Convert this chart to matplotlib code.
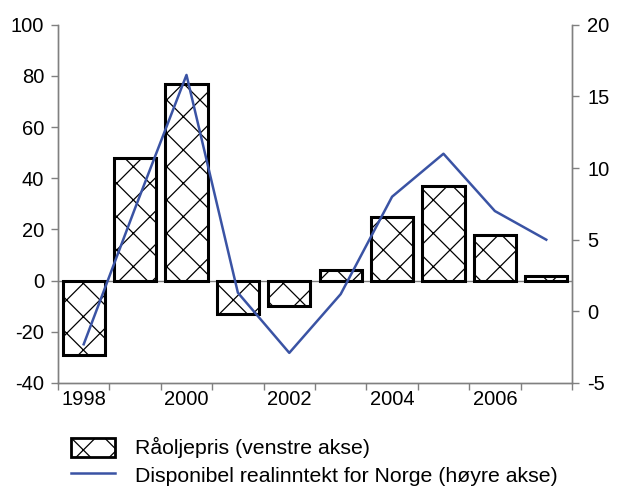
import matplotlib
matplotlib.use("Agg")
import matplotlib.pyplot as plt
from matplotlib.patches import Patch
from matplotlib.lines import Line2D

plt.rcParams["font.family"] = ["Liberation Sans", "DejaVu Sans"]
plt.rcParams["hatch.linewidth"] = 0.9
plt.rcParams["axes.unicode_minus"] = False

years = [1998, 1999, 2000, 2001, 2002, 2003, 2004, 2005, 2006, 2007]
oil_price = [-29, 48, 77, -13, -10, 4, 25, 37, 18, 2]
real_income = [-2.3, 7.2, 16.5, 1.3, -2.9, 1.2, 8.0, 11.0, 7.0, 5.0]
year_labels = ["1998", "2000", "2002", "2004", "2006"]

grey = "#808080"
blue = "#3A53A4"
fs = 14.5

fig = plt.figure(figsize=(6.17, 4.86), dpi=100)
ax = fig.add_axes([0.094, 0.212, 0.833, 0.737])
ax2 = ax.twinx()

pos = list(range(len(years)))
ax.bar(pos, oil_price, width=0.82, color="white", edgecolor="black",
       linewidth=2.2, hatch="x", zorder=2)
ax.axhline(0, color=grey, linewidth=1.0, zorder=1)
ax2.plot(pos, real_income, color=blue, linewidth=1.8, zorder=3)

ax.set_xlim(-0.5, len(years) - 0.5)
ax.set_ylim(-40, 100)
ax.set_yticks(range(-40, 101, 20))
ax2.set_ylim(-5, 20)
ax2.set_yticks(range(-5, 21, 5))

# tick marks sit between categories, labels every other year
ax.set_xticks([k - 0.5 for k in range(len(years) + 1)])
ax.set_xticklabels([])
ax.set_xticks([pos[years.index(int(y))] for y in year_labels], minor=True)
ax.set_xticklabels(year_labels, minor=True)
ax.tick_params(axis="x", which="major", length=5, color=grey, width=1)
ax.tick_params(axis="x", which="minor", length=0, pad=5, labelsize=fs)
ax.tick_params(axis="y", length=5, color=grey, width=1, labelsize=fs, pad=5)
ax2.tick_params(axis="y", length=5, color=grey, width=1, labelsize=fs, pad=6)

for a in (ax, ax2):
    a.spines["top"].set_visible(False)
    for s in ("left", "right", "bottom"):
        a.spines[s].set_color(grey)
        a.spines[s].set_linewidth(1.0)

ax2.set_zorder(ax.get_zorder() + 1)
ax2.patch.set_visible(False)

handles = [
    Patch(facecolor="white", edgecolor="black", linewidth=2.0, hatch="x"),
    Line2D([], [], color=blue, linewidth=1.8),
]
labels = ["Råoljepris (venstre akse)",
          "Disponibel realinntekt for Norge (høyre akse)"]
fig.legend(handles, labels, loc="upper left", bbox_to_anchor=(0.115, 0.1),
           frameon=False, fontsize=15.3, handlelength=2.05, handleheight=1.0,
           handletextpad=0.95, labelspacing=0.3, borderaxespad=0,
           borderpad=0)

fig.savefig("out.png", dpi=100)
